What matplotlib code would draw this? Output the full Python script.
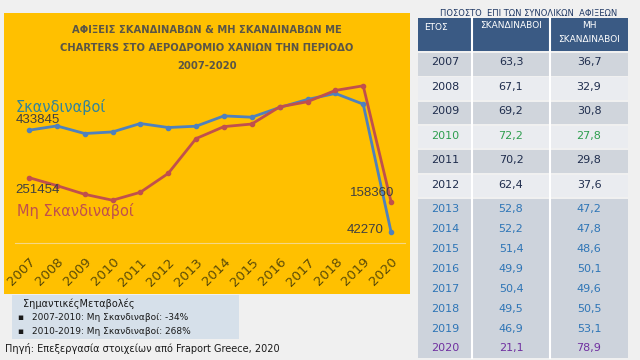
import matplotlib
matplotlib.use('Agg')
import matplotlib.pyplot as plt
from matplotlib.patches import Rectangle
from matplotlib import font_manager

# data
YEARS = [2007, 2008, 2009, 2010, 2011, 2012, 2013, 2014, 2015, 2016, 2017, 2018, 2019, 2020]
SCAND = [433845, 450400, 421100, 427200, 459600, 444200, 449200, 488900, 483900, 521300, 552200, 575300, 534100, 42270]
NON_SCAND = [251454, 220800, 187400, 164500, 195100, 267700, 401600, 447700, 457600, 523600, 543400, 586900, 604700, 158360]

PCT_SCAND = ['63,3', '67,1', '69,2', '72,2', '70,2', '62,4', '52,8', '52,2', '51,4', '49,9', '50,4', '49,5', '46,9', '21,1']
PCT_NON = ['36,7', '32,9', '30,8', '27,8', '29,8', '37,6', '47,2', '47,8', '48,6', '50,1', '49,6', '50,5', '53,1', '78,9']

TITLE = ['ΑΦΙΞΕΙΣ ΣΚΑΝΔΙΝΑΒΩΝ & ΜΗ ΣΚΑΝΔΙΝΑΒΩΝ ΜΕ',
         'CHARTERS ΣΤΟ ΑΕΡΟΔΡΟΜΙΟ ΧΑΝΙΩΝ ΤΗΝ ΠΕΡΙΟΔΟ',
         '2007-2020']
NOTES = ['2007-2010: Μη Σκανδιναβοί: -34%', '2010-2019: Μη Σκανδιναβοί: 268%']

W, H = 640, 360
BG = '#f0f0f0'
YELLOW = '#ffc000'
BLUE = '#4f81bd'
RED = '#c0504d'

# condensed bold face for the title if one is installed
_fp = font_manager.FontProperties(family='DejaVu Sans', stretch='condensed', weight='bold')
_path = font_manager.findfont(_fp, fallback_to_default=False)
if 'Condensed' in _path:
    TITLE_FONT = dict(fontproperties=font_manager.FontProperties(fname=_path, size=8))
else:
    TITLE_FONT = dict(family='Liberation Sans', fontweight='bold', fontsize=8.3)

fig = plt.figure(figsize=(6.4, 3.6), dpi=100, facecolor=BG)


def fx(x):
    return x / W


def fy(y):
    return 1 - y / H


def rect(x0, y0, x1, y1, color):
    fig.patches.append(Rectangle((fx(x0), fy(y1)), fx(x1) - fx(x0), fy(y0) - fy(y1),
                                 transform=fig.transFigure, facecolor=color,
                                 edgecolor='none', zorder=-5))


def txt(x, y, s, **kw):
    fig.text(fx(x), fy(y), s, **kw)


# yellow panel
rect(4, 13, 410, 294, YELLOW)

# line chart
ax = fig.add_axes([fx(15), fy(243), fx(390), (243 - 80) / H])
ax.set_zorder(2)
ax.set_facecolor('none')
ax.plot(YEARS, SCAND, color=BLUE, lw=2, marker='o', ms=3, zorder=3)
ax.plot(YEARS, NON_SCAND, color=RED, lw=2, marker='o', ms=3, zorder=3)
ax.set_xlim(2006.5, 2020.5)
ax.set_ylim(0, 627000)
for s in ['top', 'left', 'right']:
    ax.spines[s].set_visible(False)
ax.spines['bottom'].set_color('#f5d785')
ax.spines['bottom'].set_linewidth(0.8)
ax.set_yticks([])
ax.set_xticks(YEARS)
ax.set_xticklabels([str(y) for y in YEARS], rotation=45, ha='right',
                   rotation_mode='anchor', fontsize=9.5, color='#5c4c08',
                   family='DejaVu Sans')
ax.tick_params(axis='x', length=0, pad=9)

# title
for i, line in enumerate(TITLE):
    txt(207, 30 + i * 18, line, ha='center', va='center', color='#5a5546', **TITLE_FONT)

# series labels
txt(16, 107, 'Σκανδιναβοί', fontsize=10.5, color='#31849b', va='center')
txt(16, 120, f'{SCAND[0]}', fontsize=9.5, color='#404040', va='center', family='Liberation Sans')
txt(15, 190, f'{NON_SCAND[0]}', fontsize=9.5, color='#404040', va='center', family='Liberation Sans')
txt(17, 211, 'Μη Σκανδιναβοί', fontsize=10.5, color=RED, va='center')
txt(394, 193, f'{NON_SCAND[-1]}', fontsize=9.5, color='#404040', va='center', ha='right', family='Liberation Sans')
txt(384, 230, f'{SCAND[-1]}', fontsize=9.5, color='#404040', va='center', ha='right', family='Liberation Sans')

# notes box
rect(12, 295, 239, 339, '#d6e0ea')
txt(23, 304, 'ΣημαντικέςΜεταβολές', fontsize=7, color='#1a1a1a', va='center')
for i, n in enumerate(NOTES):
    txt(17, 318 + i * 14, '▪', fontsize=6.5, color='#1a1a1a', va='center')
    txt(32, 318 + i * 14, n, fontsize=6.5, color='#1a1a1a', va='center')
txt(5, 349, 'Πηγή: Επεξεργασία στοιχείων από Fraport Greece, 2020', fontsize=7,
    color='#1a1a1a', va='center')

# table
TX = [418, 472, 550, 628]
txt(529, 14, 'ΠΟΣΟΣΤΟ  ΕΠΙ ΤΩΝ ΣΥΝΟΛΙΚΩΝ  ΑΦΙΞΕΩΝ', fontsize=6, color='#1f3864',
    ha='center', va='center')
rect(TX[0], 18, TX[3], 51, '#3a5a84')
txt(424, 27, 'ΕΤΟΣ', fontsize=6.5, color='white', va='center')
txt(511, 26, 'ΣΚΑΝΔΙΝΑΒΟΙ', fontsize=6.5, color='white', va='center', ha='center')
txt(589, 26, 'ΜΗ', fontsize=6.5, color='white', va='center', ha='center')
txt(589, 40, 'ΣΚΑΝΔΙΝΑΒΟΙ', fontsize=6.5, color='white', va='center', ha='center')

row_y = [62, 87, 111, 136, 160, 185, 209, 229, 249, 269, 289, 309, 329, 348]
for i in range(6):
    y0 = 52 + i * 24.3
    rect(TX[0], y0 + 1, TX[3], y0 + 23.5, '#d0d5dc' if i % 2 == 0 else '#eaecf0')
rect(TX[0], 199, TX[3], 358, '#cdd3dc')
for x in TX[1:3]:
    fig.lines.append(plt.Line2D([fx(x), fx(x)], [fy(18), fy(358)],
                                transform=fig.transFigure, color='white', lw=1.5))

for i, yr in enumerate(YEARS):
    if yr == 2010:
        c = '#2e9e4f'
    elif yr == 2020:
        c = '#7030a0'
    elif yr >= 2013:
        c = '#2e75b6'
    else:
        c = '#1f2d4d'
    txt(445, row_y[i], str(yr), fontsize=8, color=c, ha='center', va='center')
    txt(511, row_y[i], PCT_SCAND[i], fontsize=8, color=c, ha='center', va='center')
    txt(589, row_y[i], PCT_NON[i], fontsize=8, color=c, ha='center', va='center')

fig.savefig('out.png', dpi=100, facecolor=BG)
